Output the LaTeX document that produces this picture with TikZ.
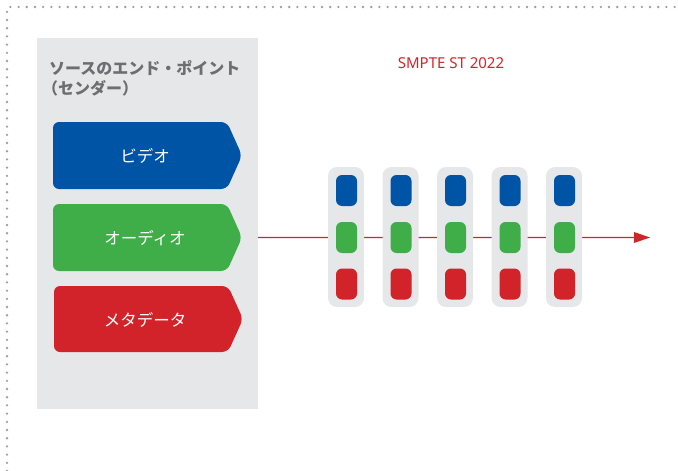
\documentclass[tikz,border=0pt]{standalone}
\usepackage{fontspec}
\setmainfont{Noto Sans}
\newfontfamily\jp{Noto Sans CJK JP}
\usetikzlibrary{arrows.meta,calc}
\definecolor{vblue}{HTML}{0054A6}
\definecolor{agreen}{HTML}{3FAE49}
\definecolor{mred}{HTML}{D2232A}
\definecolor{panelgray}{HTML}{E6E7E9}
\definecolor{titlegray}{HTML}{6D6E71}
\definecolor{dotgray}{HTML}{9D9FA2}
\tikzset{
  dotborder/.style={draw=dotgray, line width=2.6pt, line cap=round, dash pattern=on 0pt off 8.2pt},
  panel/.style={fill=panelgray, draw=none, anchor=north west, inner sep=0, minimum width=221pt, minimum height=371pt},
  titletext/.style={anchor=west, inner sep=0, text=titlegray, font=\jp\bfseries\fontsize{16}{18}\selectfont},
  streamshape/.style={rounded corners=6pt, draw=none},
  streamlabel/.style={text=white, inner sep=0, font=\jp\fontsize{16.5}{18}\selectfont},
  column/.style={fill=panelgray, draw=none, rounded corners=9pt, minimum width=36pt, minimum height=140pt, inner sep=0},
  pill/.style={draw=none, rounded corners=6pt, minimum width=21pt, minimum height=31pt, inner sep=0},
  redline/.style={fill=mred, draw=none},
}
\begin{document}
\begin{tikzpicture}[x=1pt,y=-1pt]
\useasboundingbox (0,0) rectangle (678,471);
\draw[dotborder] (7,471) -- (7,7) -- (678,7);
% flow line with arrow head, as one filled outline
\coordinate (lineStart) at (258,237.5);
\coordinate (lineEnd) at (650,237.5);
\path[redline] ($(lineStart)+(0,-0.7)$) -- ($(lineEnd)+(-16,-0.7)$) -- ($(lineEnd)+(-16,-5.5)$)
  -- (lineEnd) -- ($(lineEnd)+(-16,5.5)$) -- ($(lineEnd)+(-16,0.7)$) -- ($(lineStart)+(0,0.7)$) -- cycle;
\node[panel] (panel) at (37,38) {};
% streams
\fill[vblue, streamshape] (53,122) -- (227,122) -- (242,155.5) -- (227,189) -- (53,189) -- cycle;
\fill[agreen, streamshape] (53,204) -- (227,204) -- (242,237.5) -- (227,271) -- (53,271) -- cycle;
\fill[mred, streamshape] (54,286) -- (228,286) -- (243,319) -- (228,352) -- (54,352) -- cycle;
% packets
\foreach \i in {0,...,4} {
  \node[column] (col\i) at ({346+54.5*\i},237) {};
  \node[pill, fill=vblue] (pv\i) at ({346.5+54.5*\i},190.5) {};
  \node[pill, fill=agreen] (pa\i) at ({346.5+54.5*\i},237.5) {};
  \node[pill, fill=mred] (pm\i) at ({346.5+54.5*\i},284) {};
}
% texts
\node[titletext] (title1) at (49,68) {ソースのエンド・ポイント};
\node[titletext] (title2) at (42,88) {（センダー）};
\node[streamlabel] (video) at (145,156) {ビデオ};
\node[streamlabel] (audio) at (145,238) {オーディオ};
\node[streamlabel] (meta) at (145,320) {メタデータ};
\node[text=mred, inner sep=0, font=\fontsize{15}{17}\selectfont] (smpte) at (451,63) {SMPTE ST 2022};
\end{tikzpicture}
\end{document}
